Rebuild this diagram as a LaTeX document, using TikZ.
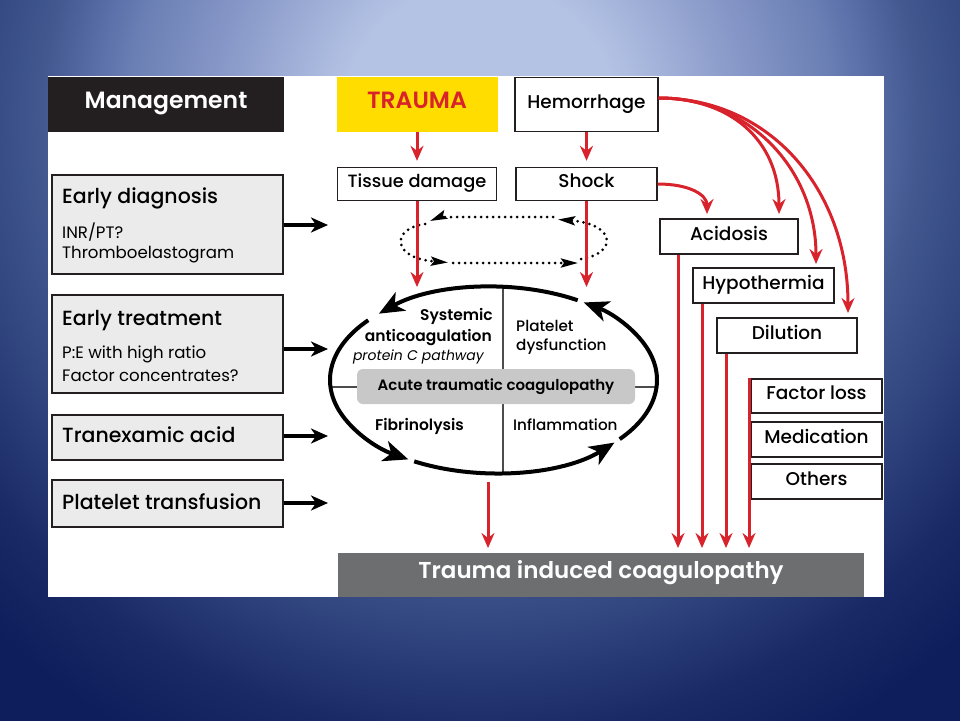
\documentclass[tikz,border=0pt]{standalone}
\usepackage{fontspec}
\setmainfont{Poppins}
\IfFontExistsTF{Poppins Medium}{\newfontfamily\medfont{Poppins Medium}}{\newfontfamily\medfont{Poppins}[FakeBold=1]}
\IfFontExistsTF{Poppins SemiBold}{\newfontfamily\sbfont{Poppins SemiBold}}{\newcommand\sbfont{\bfseries}}
\usetikzlibrary{arrows.meta}

\definecolor{bgA}{HTML}{B4C3E4}
\definecolor{bgB}{HTML}{8898C8}
\definecolor{bgC}{HTML}{6A7FB4}
\definecolor{bgD}{HTML}{5A6EA8}
\definecolor{bgE}{HTML}{42588F}
\definecolor{bgF}{HTML}{31457F}
\definecolor{bgG}{HTML}{1A2A66}
\definecolor{bgH}{HTML}{0E1E5C}
\definecolor{tred}{HTML}{D8232C}
\definecolor{tyel}{HTML}{FFDD00}
\definecolor{lgray}{HTML}{EBEBEB}
\definecolor{mgray}{HTML}{C8C8C8}
\definecolor{dgray}{HTML}{6D6E70}
\definecolor{kblack}{HTML}{231F20}

\pgfdeclareradialshading{bgshade}{\pgfpoint{0bp}{0bp}}{%
color(0bp)=(bgA); color(4.3bp)=(bgA); color(8.2bp)=(bgB); color(11bp)=(bgC);
color(12.1bp)=(bgD); color(13.7bp)=(bgE); color(16bp)=(bgF); color(19.2bp)=(bgG);
color(22bp)=(bgH); color(50bp)=(bgH)}

\tikzset{
  redarr/.style={draw=tred, line width=3pt, -{Stealth[length=15pt,width=13pt,inset=5pt]}},
  blkarr/.style={draw=black, line width=3.2pt, -{Stealth[length=17pt,width=15pt,inset=5pt]}},
  ellarc/.style={draw=black, line width=4pt, -{Stealth[length=25pt,width=21pt,inset=7pt]}},
  dotarc/.style={draw=black, line width=3pt, line cap=round, dash pattern=on 0pt off 6pt,
    -{Stealth[length=17pt,width=9pt,inset=3pt]}},
  wbox/.style={draw=kblack, line width=1.4pt, fill=white, inner sep=0pt,
    text height=0.7em, text depth=0pt, font=\medfont\fontsize{18.5}{22}\selectfont},
  gbox/.style={draw=kblack, line width=1.4pt, fill=lgray, inner sep=0pt},
  hdbox/.style={inner sep=0pt, text height=0.7em, text depth=0pt,
    font=\sbfont\fontsize{23.5}{26}\selectfont},
  lhead/.style={inner sep=0pt, font=\medfont\fontsize{20.5}{25}\selectfont},
  lsub/.style={inner sep=0pt, font=\fontsize{16.6}{20}\selectfont},
  ebold/.style={inner sep=0pt, font=\sbfont\fontsize{15.5}{18}\selectfont},
  eital/.style={inner sep=0pt, font=\itshape\fontsize{14}{17}\selectfont},
  emed/.style={inner sep=0pt, font=\medfont\fontsize{15.2}{18}\selectfont},
  divider/.style={draw=black!70, line width=1.2pt},
}

\begin{document}
\begin{tikzpicture}[x=1pt,y=-1pt]
\useasboundingbox (0,0) rectangle (960,720);
\begin{scope}
  \clip (0,0) rectangle (960,720);
  \shade[shading=bgshade] (480,120) circle (800);
\end{scope}
\fill[white] (48,76) rectangle (884,597);

% header boxes
\node[hdbox, fill=kblack, text=white, minimum width=236pt, minimum height=55pt] (man) at (166,104.5) {Management};
\node[hdbox, fill=tyel, text=tred, minimum width=161pt, minimum height=55pt] (tra) at (417,104.5) {TRAUMA};
\node[wbox, minimum width=143pt, minimum height=54pt] (hem) at (586.5,104.5) {Hemorrhage};
\node[wbox, minimum width=159pt, minimum height=33pt, font=\medfont\fontsize{17.8}{22}\selectfont] (tis) at (417,184) {Tissue damage};
\node[wbox, minimum width=141pt, minimum height=33pt] (sho) at (586.5,184) {Shock};

% right column
\node[wbox, minimum width=138pt, minimum height=35pt] (aci) at (729,236.5) {Acidosis};
\node[wbox, minimum width=141pt, minimum height=35pt] (hyp) at (763.5,285.5) {Hypothermia};
\node[wbox, minimum width=140pt, minimum height=35pt] (dil) at (787,335.5) {Dilution};
\node[wbox, minimum width=131pt, minimum height=34pt] (fac) at (816.5,396) {Factor loss};
\node[wbox, minimum width=131pt, minimum height=35pt] (med) at (816.5,439.5) {Medication};
\node[wbox, minimum width=131pt, minimum height=35pt] (oth) at (816.5,481.5) {Others};

% bottom
\node[fill=dgray, text=white, inner sep=0pt, minimum width=526pt, minimum height=44pt,
  text height=0.7em, text depth=0pt, font=\sbfont\fontsize{23}{26}\selectfont] (tic) at (601,575) {Trauma induced coagulopathy};

% left management boxes
\node[gbox, minimum width=231pt, minimum height=99pt] (ed) at (167.5,224.5) {};
\node[gbox, minimum width=231pt, minimum height=98pt] (et) at (167.5,344) {};
\node[gbox, minimum width=231pt, minimum height=45pt] (ta) at (167.5,437.5) {};
\node[gbox, minimum width=231pt, minimum height=47pt] (pt) at (167.5,503.5) {};
\node[lhead, anchor=base west] (edt) at (62,203) {Early diagnosis};
\node[lsub, anchor=base west] (ed1) at (62,238) {INR/PT?};
\node[lsub, anchor=base west] (ed2) at (62,258) {Thromboelastogram};
\node[lhead, anchor=base west] (ett) at (62,325) {Early treatment};
\node[lsub, anchor=base west] (et1) at (62,358) {P:E with high ratio};
\node[lsub, anchor=base west] (et2) at (62,381.7) {Factor concentrates?};
\node[lhead, anchor=base west] (tat) at (62,442) {Tranexamic acid};
\node[lhead, anchor=base west] (ptt) at (62,509) {Platelet transfusion};

\coordinate (a1) at (328,225);
\coordinate (a2) at (328,349);
\coordinate (a3) at (328,436);
\coordinate (a4) at (328,503);
\draw[blkarr] (ed.east |- a1) -- (a1);
\draw[blkarr] (et.east |- a2) -- (a2);
\draw[blkarr] (ta.east |- a3) -- (a3);
\draw[blkarr] (pt.east |- a4) -- (a4);

% central ellipse
\coordinate (ec) at (493.5,380);
\draw[divider] ([shift={(9.5,-92.8)}]ec) -- ([shift={(9.5,92.8)}]ec);
\draw[divider] ([shift={(-163,7)}]ec) -- ([shift={(163,7)}]ec);
\node[fill=mgray, rounded corners=6pt, inner sep=0pt, minimum width=278pt, minimum height=35pt,
  text height=0.7em, text depth=0pt, font=\sbfont\fontsize{15}{17}\selectfont] (acu) at (496,386.5) {Acute traumatic coagulopathy};
\draw[ellarc] ([shift={(-59:163.5 and 93)}]ec) arc[start angle=-59, end angle=-134.5, x radius=163.5, y radius=93];
\draw[ellarc] ([shift={(-140:163.5 and 93)}]ec) arc[start angle=-140, end angle=-238.6, x radius=163.5, y radius=93];
\draw[ellarc] ([shift={(-241:163.5 and 93)}]ec) arc[start angle=-241, end angle=-317.7, x radius=163.5, y radius=93];
\draw[ellarc] ([shift={(-320.5:163.5 and 93)}]ec) arc[start angle=-320.5, end angle=-416.5, x radius=163.5, y radius=93];

\node[ebold, anchor=base east] (sys) at (493,320.7) {Systemic};
\node[ebold, anchor=base east] (ant) at (492,341) {anticoagulation};
\node[eital, anchor=base east] (pro) at (484,360) {protein C pathway};
\node[emed, anchor=base west] (pla) at (516,331) {Platelet};
\node[emed, anchor=base west] (dys) at (516,350) {dysfunction};
\node[ebold, anchor=base west] (fib) at (375,430) {Fibrinolysis};
\node[emed, anchor=base west] (inf) at (513,430) {Inflammation};

% dotted loop
\draw[dotarc] (553,217) -- (452,217) .. controls (442,217) and (436,218.5) .. (430,221);
\draw[dotarc] (425,224) .. controls (392,228) and (390,258) .. (448,262.5);
\draw[dotarc] (453,263) -- (578,263);
\draw[dotarc] (581,259) .. controls (617,254) and (617,224) .. (558,219.5);

% red arrows
\draw[redarr, shorten >=6pt] (tra.south) -- (tis.north);
\draw[redarr, shorten >=6pt] (hem.south) -- (sho.north);
\coordinate (e1) at (417,287);
\coordinate (e2) at (586.5,287);
\draw[redarr] (tis.south) -- (e1);
\draw[redarr] (sho.south) -- (e2);

\coordinate (s1) at (707,214);
\draw[redarr] (sho.east) .. controls (690,184) and (707,195) .. (s1);

\coordinate (h0) at ([yshift=6.5pt]hem.east);
\coordinate (h1) at (779,214);
\coordinate (h2) at (816,264);
\coordinate (h3) at (848,313);
\draw[redarr] (h0) .. controls (730,98) and (779,140) .. (h1);
\draw[redarr] (h0) .. controls (750,98) and (816,170) .. (h2);
\draw[redarr] (h0) .. controls (770,98) and (848,190) .. (h3);

\coordinate (v1) at (678,548);
\coordinate (v2) at (702,548);
\coordinate (v3) at (726,548);
\coordinate (v4) at (749,548);
\draw[redarr] (aci.south -| v1) -- (v1);
\draw[redarr] (hyp.south -| v2) -- (v2);
\draw[redarr] (dil.south -| v3) -- (v3);
\draw[redarr] (fac.north -| v4) -- (v4);

\coordinate (c1) at (488,482);
\coordinate (c2) at (488,548);
\draw[redarr] (c1) -- (c2);
\end{tikzpicture}
\end{document}
